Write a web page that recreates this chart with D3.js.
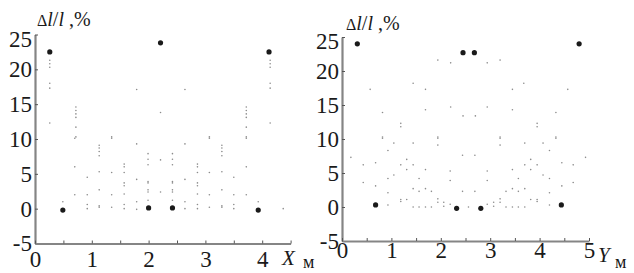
<!DOCTYPE html>
<html><head><meta charset="utf-8">
<script src="https://cdn.jsdelivr.net/npm/d3@7"></script>
<style>
body{margin:0;background:#fff;}
svg{display:block;}
</style></head>
<body>
<svg id="c" width="634" height="273" font-family="Liberation Serif"></svg>
<script>
// ---- data ----
const yTicks = [-5, 0, 5, 10, 15, 20, 25];
const xTicksLeft = [0, 0.5, 1, 1.5, 2, 2.5, 3, 3.5, 4, 4.5];
const xTicksRight = [0, 0.5, 1, 1.5, 2, 2.5, 3, 3.5, 4, 4.5, 5];
const yLabelText = ["Δ", "l", "/", "l", " ,%"];
const xLabelLeft = ["X", "м"];
const xLabelRight = ["Y", "м"];

// left panel (X, m) : large measured points
const leftBig = [[0.26,22.5],[2.21,23.8],[4.12,22.5],[0.49,-0.2],[2.0,0.1],[2.42,0.1],[3.93,-0.2]];
// left panel : small computed points
const leftSmall = [
 [0.26,21.3],[0.26,20.8],[0.26,20.3],[0.26,18.0],[0.26,17.3],[0.26,12.3],
 [0.72,14.6],[0.72,14.1],[0.72,13.6],[0.72,13.1],[0.72,11.7],[0.72,10.3],
 [1.35,10.3],[1.79,17.1],[2.21,13.8],[2.64,17.1],[3.07,10.3],
 [3.72,14.6],[3.72,14.1],[3.72,13.6],[3.72,13.1],[3.72,11.7],[3.72,10.3],
 [4.14,21.3],[4.14,20.8],[4.14,20.3],[4.14,18.0],[4.14,17.3],[4.14,12.3],
 [0.49,1.0],
 [0.70,10.1],[0.70,6.0],[0.70,2.0],
 [0.92,4.5],[0.92,2.0],[0.92,0.6],[0.92,0.0],
 [1.13,9.1],[1.13,8.7],[1.13,8.2],[1.13,7.6],[1.13,5.3],[1.13,2.7],[1.13,0.4],[1.13,0.2],
 [1.35,10.1],[1.35,5.2],[1.35,2.0],[1.35,0.2],
 [1.57,6.4],[1.57,6.0],[1.57,5.2],[1.57,3.7],[1.57,3.3],[1.57,2.1],[1.57,0.6],[1.57,0.0],
 [1.79,9.3],[1.79,4.2],[1.79,1.0],[1.79,-0.1],
 [1.99,7.9],[1.99,7.1],[1.99,6.3],[1.99,3.9],[1.99,3.7],[1.99,2.7],[1.99,2.4],[1.99,1.2],
 [2.21,7.0],[2.21,2.4],
 [2.42,7.9],[2.42,7.1],[2.42,6.3],[2.42,3.9],[2.42,3.7],[2.42,2.7],[2.42,2.4],[2.42,1.2],
 [2.64,9.3],[2.64,4.2],[2.64,1.0],[2.64,0.0],
 [2.86,6.4],[2.86,6.0],[2.86,5.2],[2.86,3.7],[2.86,3.3],[2.86,2.1],[2.86,0.6],[2.86,0.0],
 [3.07,10.1],[3.07,5.2],[3.07,2.0],[3.07,0.2],
 [3.29,9.1],[3.29,8.7],[3.29,8.2],[3.29,7.6],[3.29,5.3],[3.29,2.7],[3.29,0.4],[3.29,0.2],
 [3.50,4.5],[3.50,2.0],[3.50,0.6],[3.50,0.0],
 [3.72,10.1],[3.72,6.0],[3.72,2.0],
 [3.93,1.0],[4.37,0.0]
];

// right panel (Y, m) : large measured points
const rightBig = [[0.31,24.0],[2.45,22.7],[2.68,22.7],[4.80,24.0],[0.68,0.3],[2.32,-0.2],[2.81,-0.2],[4.44,0.3]];
// right panel : small computed points
const rightSmall = [
 [0.57,17.3],[0.82,13.9],[1.19,12.3],[1.19,11.8],[0.82,10.3],[1.44,18.2],[1.69,17.3],[1.69,14.3],
 [1.94,21.6],[1.94,10.3],[2.20,21.2],[2.20,14.7],[2.45,13.4],[2.70,13.4],[2.94,21.2],[2.94,14.7],
 [3.20,21.6],[3.20,10.3],[3.45,17.3],[3.45,14.3],[3.68,18.2],[3.95,12.3],[3.95,11.8],[4.33,13.9],[4.33,10.3],[4.57,17.3],
 [0.18,7.3],[0.43,6.2],[0.43,3.6],[0.68,6.5],[0.68,3.1],[0.82,10.1],
 [0.93,8.3],[0.93,4.2],[0.93,2.1],[0.93,0.3],[1.05,9.4],[1.05,4.7],
 [1.19,6.2],[1.19,1.1],[1.19,0.8],[1.31,7.0],[1.31,5.5],[1.31,1.1],
 [1.44,9.4],[1.44,6.2],[1.44,2.7],[1.44,0.0],[1.56,4.2],[1.56,2.3],[1.56,0.0],
 [1.69,5.5],[1.69,2.7],[1.69,0.0],[1.81,2.3],[1.81,0.0],
 [1.94,10.1],[1.94,9.1],[1.94,1.2],[1.94,0.7],[2.06,0.7],[2.06,0.1],
 [2.19,5.3],[2.19,3.9],[2.19,0.4],[2.44,7.6],[2.44,2.3],[2.56,0.0],[2.69,7.6],[2.69,2.3],
 [2.94,5.3],[2.94,3.9],[2.94,0.4],[3.07,0.7],[3.07,0.1],
 [3.20,10.1],[3.20,9.1],[3.20,1.2],[3.20,0.7],[3.32,2.3],[3.32,0.0],
 [3.45,5.5],[3.45,2.7],[3.45,0.0],[3.57,4.2],[3.57,2.3],[3.57,0.0],
 [3.70,9.4],[3.70,6.2],[3.70,2.7],[3.70,0.0],[3.82,7.0],[3.82,5.5],[3.82,1.1],
 [3.95,6.2],[3.95,1.1],[3.95,0.8],[4.07,9.4],[4.07,4.7],
 [4.20,8.3],[4.20,4.2],[4.20,2.1],[4.20,0.3],[4.33,10.1],
 [4.45,6.5],[4.45,3.1],[4.68,6.2],[4.68,3.6],[4.93,7.3]
];

// ---- drawing ----
const FONT = "Liberation Serif";
const INK = "#1a1a1a";
const svg = d3.select("#c");
const fmt = d => Number.isInteger(d) ? String(d) : "";

function panel(cfg){
  const g = svg.append("g");
  const x = d3.scaleLinear().domain(cfg.xDomain).range(cfg.xRange);
  const y = d3.scaleLinear().domain([-5,25]).range(cfg.yRange);

  g.selectAll("circle.s").data(cfg.small).join("circle")
    .attr("class","s")
    .attr("cx",d=>x(d[0])).attr("cy",d=>y(d[1]))
    .attr("r",0.8).attr("fill","#8c8c8c");
  g.selectAll("circle.b").data(cfg.big).join("circle")
    .attr("class","b")
    .attr("cx",d=>x(d[0])).attr("cy",d=>y(d[1]))
    .attr("r",2.6).attr("fill",INK);

  const yAxis = d3.axisLeft(y).tickValues(yTicks).tickSizeInner(-3).tickSizeOuter(0).tickPadding(3).tickFormat(fmt);
  const ya = g.append("g").attr("transform",`translate(${cfg.xRange[0]},0)`).call(yAxis);
  const xAxis = d3.axisBottom(x).tickValues(cfg.xTicks).tickSizeInner(-3).tickSizeOuter(0)
    .tickPadding(cfg.xPad).tickFormat(fmt);
  const xa = g.append("g").attr("transform",`translate(0,${cfg.yRange[0]})`).call(xAxis);

  [ya,xa].forEach(a=>{
    a.attr("font-family",FONT).attr("font-size",23);
    a.select(".domain").attr("stroke","#858585").attr("stroke-width",2.2);
    a.selectAll(".tick line").attr("stroke","#555").attr("stroke-width",1);
    a.selectAll(".tick text").attr("font-family",FONT).attr("font-size",23).attr("fill",INK);
  });
  // the topmost y label sits slightly below its tick, as in the source
  ya.selectAll(".tick text").filter(d=>d===25).attr("dy","0.5em");

  const yl = g.append("text").attr("x",cfg.yLab[0]).attr("y",cfg.yLab[1])
    .attr("font-family",FONT).attr("font-size",20).attr("fill",INK);
  yLabelText.forEach(t=>{
    yl.append("tspan").text(t).attr("font-family",FONT)
      .attr("font-style",(t==="l")?"italic":"normal")
      .attr("font-size",t==="Δ"?16:20);
  });
  g.append("text").attr("x",cfg.xLab[0]).attr("y",cfg.xLab[1]).attr("font-size",21)
    .attr("font-family",FONT).attr("fill",INK)
    .attr("font-style","italic").text(cfg.xLabText[0]);
  g.append("text").attr("x",cfg.xLab[2]).attr("y",cfg.xLab[3]).attr("font-size",18)
    .attr("font-family",FONT).attr("fill",INK)
    .text(cfg.xLabText[1]);
}

panel({xDomain:[0,4.5], xRange:[35,290.6], yRange:[243.5,34.5], xTicks:xTicksLeft, xPad:7,
  big:leftBig, small:leftSmall, yLab:[37,26], xLab:[282,265,303,268], xLabText:xLabelLeft});
panel({xDomain:[0,5], xRange:[342,589], yRange:[241,37], xTicks:xTicksRight, xPad:1,
  big:rightBig, small:rightSmall, yLab:[346,30], xLab:[598,262,615,268], xLabText:xLabelRight});
</script>
</body></html>
